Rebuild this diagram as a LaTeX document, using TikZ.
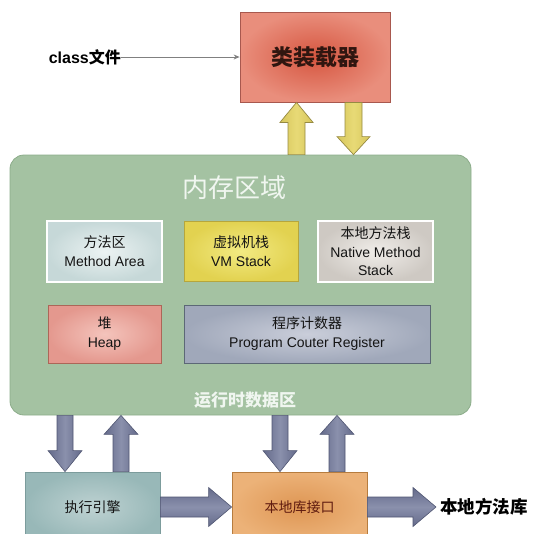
\documentclass[tikz,border=0pt]{standalone}
\usepackage{fontspec}
\setmainfont{Liberation Sans}
\newfontfamily\cjk{Noto Sans CJK SC}
\usetikzlibrary{calc,arrows.meta}

\definecolor{memfill}{RGB}{164,194,162}
\definecolor{memline}{RGB}{140,172,138}
\definecolor{ldin}{RGB}{214,86,64}
\definecolor{ldout}{RGB}{233,142,124}
\definecolor{ldline}{RGB}{168,88,78}
\definecolor{yfill}{RGB}{214,198,92}
\definecolor{ymid}{RGB}{232,218,118}
\definecolor{yline}{RGB}{150,138,66}
\definecolor{gdark}{RGB}{100,106,138}
\definecolor{glight}{RGB}{138,144,172}
\definecolor{gline}{RGB}{80,86,114}
\definecolor{main}{RGB}{236,243,243}
\definecolor{maout}{RGB}{198,216,216}
\definecolor{vmin}{RGB}{242,234,130}
\definecolor{vmout}{RGB}{226,210,80}
\definecolor{vmline}{RGB}{182,166,60}
\definecolor{nsin}{RGB}{240,237,233}
\definecolor{nsout}{RGB}{206,201,195}
\definecolor{hpin}{RGB}{244,196,188}
\definecolor{hpout}{RGB}{228,152,142}
\definecolor{hpline}{RGB}{172,102,88}
\definecolor{pcin}{RGB}{202,206,218}
\definecolor{pcout}{RGB}{160,168,186}
\definecolor{pcline}{RGB}{92,104,118}
\definecolor{exin}{RGB}{190,210,210}
\definecolor{exout}{RGB}{152,184,184}
\definecolor{exline}{RGB}{124,156,156}
\definecolor{nlin}{RGB}{222,150,84}
\definecolor{nlout}{RGB}{236,178,120}
\definecolor{nlline}{RGB}{182,124,62}
\definecolor{txt}{RGB}{20,20,20}
\definecolor{nltxt}{RGB}{96,28,16}
\definecolor{memtxt}{RGB}{240,246,240}
\definecolor{ldtxt}{RGB}{48,22,16}
\definecolor{clsline}{RGB}{128,128,128}

% vertical block arrow: style, tail, tip, shaft half, head half, head length
\newcommand\vblockarrow[6]{%
  \shadedraw[#1] let \p1=#2, \p2=#3, \n1={(\y2>\y1)?1:-1} in
    (\x1-#4pt,\y1) -- (\x1-#4pt,\y2-\n1*#6pt) -- (\x1-#5pt,\y2-\n1*#6pt) --
    (\x1,\y2) -- (\x1+#5pt,\y2-\n1*#6pt) -- (\x1+#4pt,\y2-\n1*#6pt) --
    (\x1+#4pt,\y1) -- cycle;}
% horizontal block arrow: style, tail, tip, shaft half, head half, head length
\newcommand\hblockarrow[6]{%
  \shadedraw[#1] let \p1=#2, \p2=#3, \n1={(\x2>\x1)?1:-1} in
    (\x1,\y1-#4pt) -- (\x2-\n1*#6pt,\y1-#4pt) -- (\x2-\n1*#6pt,\y1-#5pt) --
    (\x2,\y1) -- (\x2-\n1*#6pt,\y1+#5pt) -- (\x2-\n1*#6pt,\y1+#4pt) --
    (\x1,\y1+#4pt) -- cycle;}

\begin{document}
\begin{tikzpicture}[x=1pt,y=-1pt,
  box/.style={draw, line width=0.8pt, inner sep=2pt, align=center,
    font=\fontsize{14}{19}\selectfont, text=txt},
  yarrow/.style={left color=yfill, right color=yfill, middle color=ymid,
    draw=yline, line width=0.7pt},
  garrowv/.style={left color=gdark, right color=gdark, middle color=glight,
    draw=gline, line width=0.6pt},
  garrowh/.style={top color=gdark, bottom color=gdark, middle color=glight,
    draw=gline, line width=0.6pt}
]
\useasboundingbox (0,0) rectangle (553,533);
\clip (0,0) rectangle (553,533);

% class loader
\node[box, minimum width=150pt, minimum height=90pt, inner color=ldin,
  outer color=ldout, draw=ldline, text=ldtxt,
  font=\cjk\bfseries\fontsize{22}{26}\selectfont] (loader) at (315,57) {类装载器};
\node[font=\bfseries\fontsize{16}{18}\selectfont, text=black, inner sep=0pt,
  anchor=east] (cls) at (121,57) {class{\cjk 文件}};
\draw[draw=clsline, line width=0.8pt,
  -{Stealth[length=6pt,width=5pt]}] (cls.east) -- (loader.west);

% memory area
\node[draw=memline, fill=memfill, rounded corners=14pt, line width=0.8pt,
  minimum width=461pt, minimum height=260pt] (mem) at (240.5,285) {};
\node[font=\cjk\fontsize{26}{30}\selectfont, text=memtxt] (memtitle) at (234,188) {内存区域};
\node[font=\cjk\bfseries\fontsize{17}{20}\selectfont, text=memtxt] (rtlabel) at (245,400) {运行时数据区};

\node[box, minimum width=115pt, minimum height=61pt, inner color=main,
  outer color=maout, draw=white, line width=1.5pt] (ma) at (104.5,251.5)
  {{\cjk 方法区}\\Method Area};
\node[box, minimum width=114pt, minimum height=60pt, inner color=vmin,
  outer color=vmout, draw=vmline] (vm) at (241,251)
  {{\cjk 虚拟机栈}\\VM Stack};
\node[box, minimum width=115pt, minimum height=61pt, inner color=nsin,
  outer color=nsout, draw=white, line width=1.5pt,
  font=\fontsize{14}{18.5}\selectfont] (ns) at (375.5,251.5)
  {{\cjk 本地方法栈}\\Native Method\\Stack};
\node[box, minimum width=113pt, minimum height=58pt, inner color=hpin,
  outer color=hpout, draw=hpline] (heap) at (104.5,334)
  {{\cjk 堆}\\Heap};
\node[box, minimum width=246pt, minimum height=58pt, inner color=pcin,
  outer color=pcout, draw=pcline] (pc) at (307,334)
  {{\cjk 程序计数器}\\Program Couter Register};

% bottom boxes
\node[box, minimum width=135pt, minimum height=70pt, inner color=exin,
  outer color=exout, draw=exline, font=\cjk\fontsize{14}{17}\selectfont]
  (exec) at (92.5,507) {执行引擎};
\node[box, minimum width=135pt, minimum height=70pt, inner color=nlin,
  outer color=nlout, draw=nlline, text=nltxt, font=\cjk\fontsize{14}{17}\selectfont]
  (nli) at (299.5,507) {本地库接口};
\node[font=\cjk\bfseries\fontsize{17.5}{20}\selectfont, text=black, anchor=west,
  inner sep=4pt] (lib) at (436,507) {本地方法库};

% arrow axes
\coordinate (yu) at (296.5,0);
\coordinate (yd) at (353.5,0);
\coordinate (g1) at (65,0);
\coordinate (g2) at (121,0);
\coordinate (g3) at (280,0);
\coordinate (g4) at (337,0);

\vblockarrow{yarrow}{(yu |- mem.north)}{(yu |- loader.south)}{8.5}{16.5}{20}
\vblockarrow{yarrow}{(yd |- loader.south)}{(yd |- mem.north)}{8.5}{16.5}{18}
\vblockarrow{garrowv}{(g1 |- mem.south)}{(g1 |- exec.north)}{8}{17}{21}
\vblockarrow{garrowv}{(g2 |- exec.north)}{(g2 |- mem.south)}{8}{17}{19}
\vblockarrow{garrowv}{(g3 |- mem.south)}{(g3 |- nli.north)}{8}{17}{21}
\vblockarrow{garrowv}{(g4 |- nli.north)}{(g4 |- mem.south)}{8}{17}{19}
\hblockarrow{garrowh}{(exec.east)}{(nli.west)}{10}{19.5}{23}
\hblockarrow{garrowh}{(nli.east)}{(lib.west)}{10}{19.5}{23}
\end{tikzpicture}
\end{document}
